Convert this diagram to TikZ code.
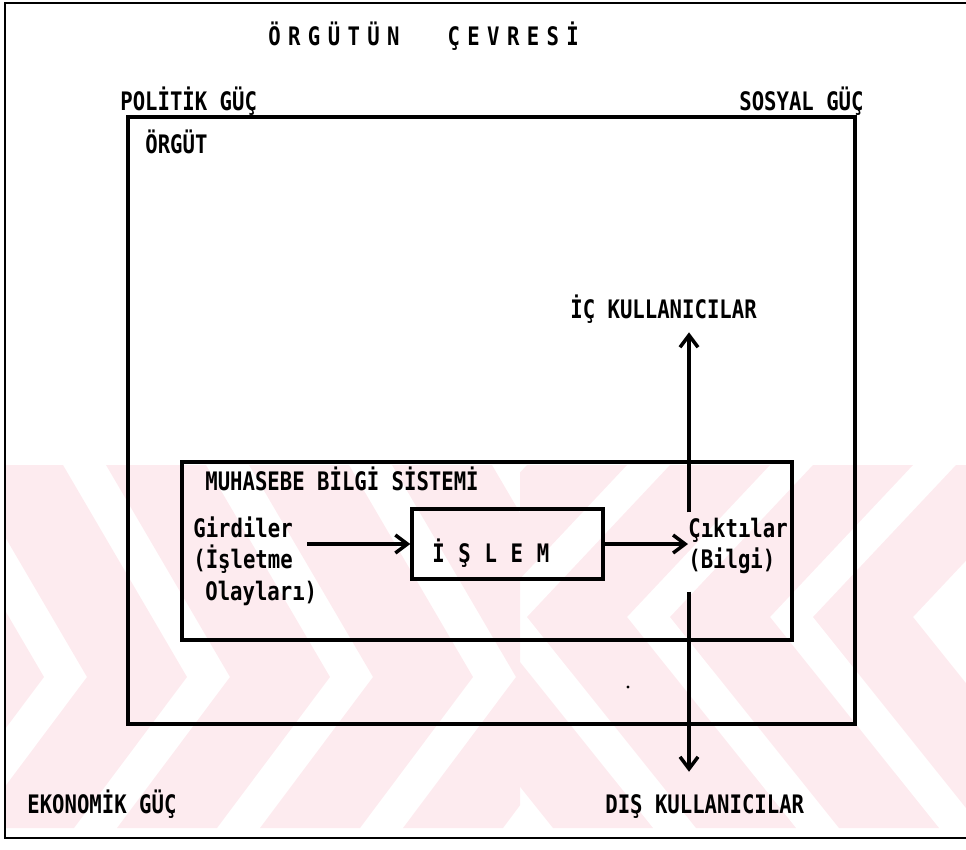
\documentclass[tikz,border=0pt]{standalone}
\usepackage{fontspec}
\usetikzlibrary{arrows.meta,calc,positioning}
\newfontfamily\tw[FakeStretch=0.81]{DejaVu Sans Mono}
\newcommand{\twf}{\tw\bfseries\fontsize{14.5}{18}\selectfont}
\definecolor{wmpink}{RGB}{253,235,239}
\tikzset{
  lbl/.style   = {anchor=base west, inner sep=0pt, font=\twf},
  box/.style   = {draw, line width=2pt, inner sep=0pt},
  arr/.style   = {line width=2pt, -{Straight Barb[length=2.4mm,width=3.6mm]}},
  wm/.style    = {fill=wmpink, draw=none},
}

\begin{document}
\begin{tikzpicture}[x=0.02cm, y=-0.02cm]
  \useasboundingbox (0,0) rectangle (966,849);
  % watermark
  \begin{scope}
    \clip (5,465) rectangle (520,828);
    \foreach \n in {-1,...,3}{
      \pgfmathsetmacro{\off}{143*\n}
      \fill[wm] ({63+\off},465) -- ({187+\off},677) -- ({74+\off},828) -- ({-26+\off},828)
        -- ({87+\off},677) -- ({-37+\off},465) -- cycle;
    }
  \end{scope}
  \begin{scope}
    \clip (520,465) rectangle (966,828);
    \foreach \m in {-1,...,3}{
      \pgfmathsetmacro{\off}{-143*\m}
      \fill[wm] ({913+\off},465) -- ({770+\off},617) -- ({939+\off},828) -- ({839+\off},828)
        -- ({670+\off},617) -- ({813+\off},465) -- cycle;
    }
  \end{scope}

  % environment frame
  \draw[line width=1.4pt] (5,3) rectangle (980,838);
  \node[lbl, font=\twf\addfontfeature{LetterSpace=29}] (cevre) at (268,45)
    {ÖRGÜTÜN\hspace{0.96cm}ÇEVRESİ};
  \node[lbl] (politik) at (120,110) {POLİTİK GÜÇ};
  \node[lbl] (sosyal) at (739,110) {SOSYAL GÜÇ};
  \node[lbl] (ekonomik) at (27,813) {EKONOMİK GÜÇ};

  % organisation
  \node[box, minimum width=14.54cm, minimum height=12.14cm] (orgut) at (491.5,420.5) {};
  \node[lbl] (orgutlbl) at (145,153) {ÖRGÜT};

  % accounting information system
  \node[box, minimum width=12.2cm, minimum height=3.56cm] (mbs) at (487,551) {};
  \node[lbl] (mbslbl) at (205,490) {MUHASEBE BİLGİ SİSTEMİ};
  \node[box, minimum width=3.82cm, minimum height=1.4cm] (islem) at (507.5,544) {};
  \node[lbl, font=\twf\addfontfeature{LetterSpace=5}] (islemlbl) at (432,562) {İ Ş L E M};

  \node[lbl] (girdi) at (193,537) {Girdiler};
  \node[lbl] (isletme) at (193,568) {(İşletme};
  \node[lbl] (olay) at (205,600) {Olayları)};
  \node[lbl] (cikti) at (688,537) {Çıktılar};
  \node[lbl] (bilgi) at (688,568) {(Bilgi)};

  \node[lbl] (ic) at (570,318) {İÇ KULLANICILAR};
  \node[lbl] (dis) at (605,813) {DIŞ KULLANICILAR};

  \coordinate (axis) at (689,0);
  \draw[arr, shorten <=0.28cm] (girdi.east |- islem.west) -- (islem.west);
  \draw[arr] (islem.east) -- (islem.east -| cikti.west);
  \draw[arr, shorten <=0.1cm, shorten >=0.18cm] (cikti.north -| axis) -- (ic.south -| axis);
  \draw[arr, shorten <=0.36cm, shorten >=0.44cm] (bilgi.south -| axis) -- (dis.north -| axis);

  \fill (628,687) circle (0.9pt);
\end{tikzpicture}
\end{document}
